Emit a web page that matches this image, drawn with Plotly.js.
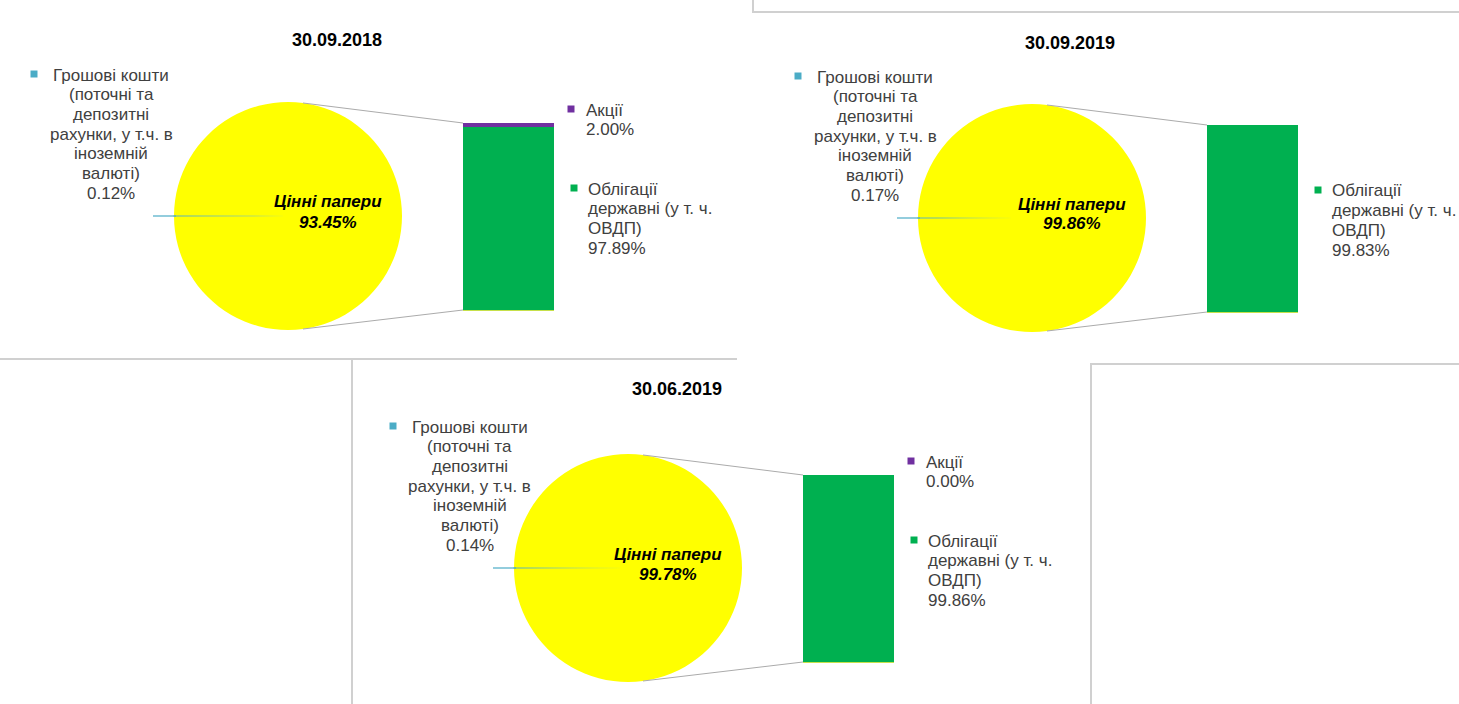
<!DOCTYPE html>
<html>
<head>
<meta charset="utf-8">
<script src="https://cdn.plot.ly/plotly-3.0.1.min.js"></script>
<style>
  html, body { margin: 0; padding: 0; background: #ffffff; }
  #chart { width: 1459px; height: 704px; }
</style>
</head>
<body>
<div id="chart"></div>
<script>
// ---------- DATA ----------
const dates = ['30.09.2018', '30.09.2019', '30.06.2019'];
const cashLines = ['Грошові кошти', '(поточні та', 'депозитні', 'рахунки, у т.ч. в', 'іноземній', 'валюті)'];
const securitiesName = 'Цінні папери';
const sharesName = 'Акції';
const bondsLines = ['Облігації', 'державні (у т. ч.', 'ОВДП)'];
const otherName = 'Інші';

const cashPct = [0.12, 0.17, 0.14];
const securitiesPct = [93.45, 99.86, 99.78];
const sharesPct = [2.00, null, 0.00];
const bondsPct = [97.89, 99.83, 99.86];
const otherPct = [0.11, 0.17, 0.14];

// ---------- LAYOUT CONSTANTS ----------
const W = 1459, H = 704;
const fx = x => x / W;
const fy = y => 1 - y / H;
const centers = [[288, 216], [1032, 218], [628, 568]];
const titlePos = [[337, 40], [1070, 43], [677, 389]];
const cashLabelX = [111, 875, 470];
const R = 114;
const LINE = 19.7;
const LABEL_SIZE = 17;

const colors = {
  cash: '#4BACC6', sec: '#FFFF00', bonds: '#00B050', shares: '#7030A0', other: '#C6E04A',
  text: '#404040', conn: '#ABABAB', frame: '#D0D0D0'
};
const fontFam = '"Liberation Sans", Arial, sans-serif';
const pct = v => v.toFixed(2) + '%';

const data = [];
const annotations = [];
const shapes = [];
const layout = {
  width: W, height: H,
  margin: {l: 0, r: 0, t: 0, b: 0},
  paper_bgcolor: '#ffffff', plot_bgcolor: 'rgba(0,0,0,0)',
  showlegend: false, barmode: 'stack', bargap: 0,
  font: {family: fontFam, color: colors.text, size: LABEL_SIZE},
  annotations: annotations, shapes: shapes
};

function addText(x, y, text, opts) {
  opts = opts || {};
  annotations.push({
    xref: 'paper', yref: 'paper', x: fx(x), y: fy(y),
    xanchor: opts.xanchor || 'center', yanchor: 'middle',
    text: text, showarrow: false,
    font: {family: fontFam, size: opts.size || LABEL_SIZE, color: opts.color || colors.text}
  });
}
function addSquare(x, y, color) {
  shapes.push({type: 'rect', xref: 'paper', yref: 'paper',
    x0: fx(x - 3.5), x1: fx(x + 3.5), y0: fy(y + 3.5), y1: fy(y - 3.5),
    fillcolor: color, line: {width: 0}});
}
function addLine(x0, y0, x1, y1, color, width) {
  shapes.push({type: 'line', xref: 'paper', yref: 'paper',
    x0: fx(x0), y0: fy(y0), x1: fx(x1), y1: fy(y1),
    line: {color: color, width: width || 1}});
}

dates.forEach((d, i) => {
  const [cx, cy] = centers[i];
  const axSuffix = i === 0 ? '' : String(i + 1);

  // Pie
  const pieVals = [cashPct[i], securitiesPct[i]];
  const half = cashPct[i] / (cashPct[i] + securitiesPct[i]) * 180;
  data.push({
    type: 'pie', values: pieVals, labels: [cashLines.join(' '), securitiesName],
    sort: false, direction: 'clockwise', rotation: 270 - half,
    marker: {colors: [colors.cash, colors.sec],
             line: {color: [colors.cash, colors.sec], width: [1, 0]}},
    textinfo: 'none', hoverinfo: 'label+value',
    domain: {x: [fx(cx - R), fx(cx + R)], y: [fy(cy + R), fy(cy - R)]}
  });

  // Stacked bar (breakdown of securities)
  const xa = 'x' + axSuffix, ya = 'y' + axSuffix;
  const total = otherPct[i] + bondsPct[i] + (sharesPct[i] || 0);
  data.push({type: 'bar', x: [0], y: [otherPct[i]], xaxis: xa, yaxis: ya, width: 1,
    marker: {color: colors.other, line: {color: colors.other, width: 2.5}}, name: otherName});
  data.push({type: 'bar', x: [0], y: [bondsPct[i]], xaxis: xa, yaxis: ya, width: 1,
    marker: {color: colors.bonds, line: {width: 0}}, name: bondsLines.join(' ')});
  data.push({type: 'bar', x: [0], y: [sharesPct[i] || 0], xaxis: xa, yaxis: ya, width: 1,
    marker: {color: colors.shares, line: {width: 0}}, name: sharesName});

  const bx0 = cx + 175, bx1 = cx + 266, by0 = cy - 93, by1 = cy + 94;
  const pad = 3; // pixels of room below the bar so the thin bottom segment stays visible
  const unitsPerPx = total / (by1 - by0);
  layout['xaxis' + axSuffix] = {domain: [fx(bx0 - 2), fx(bx1 + 2)],
    range: [-0.5 - 2 / (bx1 - bx0), 0.5 + 2 / (bx1 - bx0)], visible: false,
    fixedrange: true, anchor: ya};
  layout['yaxis' + axSuffix] = {domain: [fy(by1 + pad), fy(by0)],
    range: [-pad * unitsPerPx, total], visible: false, fixedrange: true, anchor: xa};

  // Connector lines pie -> bar
  const dx = 15, dy = Math.sqrt(R * R - dx * dx);
  addLine(cx + dx, cy - dy, bx0, by0, colors.conn, 1);
  addLine(cx + dx, cy + dy, bx0, by1, colors.conn, 1);

  // Leader line for the cash slice
  addLine(cx - R - 21, cy, cx - R + 2, cy, colors.cash, 1.2);

  // Title
  addText(titlePos[i][0], titlePos[i][1], '<b>' + d + '</b>', {size: 18, color: '#000000'});

  // Cash label (left)
  const lx = cashLabelX[i];
  const ly0 = cy - 141;
  cashLines.concat([pct(cashPct[i])]).forEach((t, k) => addText(lx, ly0 + k * LINE, t));
  addSquare(lx - 77, ly0 - 1, colors.cash);

  // Securities label inside pie
  addText(cx + 40, cy - 14, '<b><i>' + securitiesName + '</i></b>', {color: '#000000'});
  addText(cx + 40, cy + 6, '<b><i>' + pct(securitiesPct[i]) + '</i></b>', {color: '#000000'});

  // Shares label
  if (sharesPct[i] !== null) {
    addSquare(cx + 283, cy - 107, colors.shares);
    addText(cx + 296, cy - 106, sharesName, {xanchor: 'left'});
    addText(cx + 296, cy - 106 + LINE, pct(sharesPct[i]), {xanchor: 'left'});
  }
  // Bonds label
  addSquare(cx + 286, cy - 28, colors.bonds);
  bondsLines.concat([pct(bondsPct[i])]).forEach((t, k) =>
    addText(cx + 298, cy - 27 + k * LINE, t, {xanchor: 'left'}));
});

// Frames of the pasted chart blocks
shapes.push({type: 'path', xref: 'paper', yref: 'paper',
  path: `M ${fx(753)} ${fy(0)} L ${fx(753)} ${fy(12)} L ${fx(1459)} ${fy(12)}`,
  line: {color: colors.frame, width: 2}});
addLine(0, 359, 737, 359, colors.frame, 2);
addLine(352, 359, 352, 704, colors.frame, 2);
shapes.push({type: 'path', xref: 'paper', yref: 'paper',
  path: `M ${fx(1091)} ${fy(704)} L ${fx(1091)} ${fy(364)} L ${fx(1459)} ${fy(364)}`,
  line: {color: colors.frame, width: 2}});

Plotly.newPlot('chart', data, layout, {displayModeBar: false, responsive: false});
</script>
</body>
</html>
